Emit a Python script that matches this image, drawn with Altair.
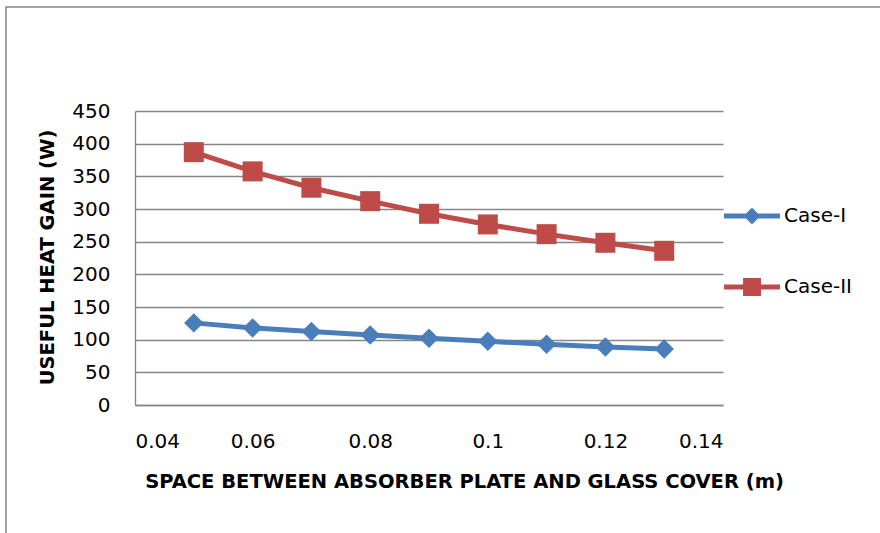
import altair as alt
import pandas as pd

# ---- data ----
spacing_m = [0.05, 0.06, 0.07, 0.08, 0.09, 0.10, 0.11, 0.12, 0.13]
case_1 = [125.7, 118.0, 112.4, 107.3, 102.0, 97.5, 92.9, 88.9, 85.8]
case_2 = [387.0, 357.6, 332.6, 312.0, 292.7, 276.4, 261.5, 248.3, 236.0]
series_names = ["Case-I", "Case-II"]
x_ticks = [0.04, 0.06, 0.08, 0.10, 0.12, 0.14]
y_ticks = [0, 50, 100, 150, 200, 250, 300, 350, 400, 450]

# ---- styling ----
line_colors = ["#4a7ebb", "#be4b48"]
marker_shapes = ["diamond", "square"]
marker_sizes = [380, 400]
legend_paths = [
    "M-1,-0.09L1,-0.09L1,0.09L-1,0.09Z M0,-0.3L0.3,0L0,0.3L-0.3,0Z",
    "M-1,-0.09L1,-0.09L1,0.09L-1,0.09Z M-0.32,-0.32L0.32,-0.32L0.32,0.32L-0.32,0.32Z",
]
FONT = "DejaVu Sans"
GRAY = "#868686"

rows = []
for name, vals in zip(series_names, [case_1, case_2]):
    for xv, yv in zip(spacing_m, vals):
        rows.append({"x": xv, "y": yv, "series": name})
df = pd.DataFrame(rows)

x_enc = alt.X(
    "x:Q",
    scale=alt.Scale(domain=[0.04, 0.14], nice=False, zero=False),
    axis=alt.Axis(
        values=x_ticks, format="~g", grid=False, ticks=False, tickSize=0,
        domain=True, domainColor=GRAY, domainWidth=1.3,
        labelFont=FONT, labelFontSize=20, labelColor="black", labelPadding=26,
        title="SPACE BETWEEN ABSORBER PLATE AND GLASS COVER (m)",
        titleFont=FONT, titleFontSize=19.5, titleFontWeight="bold", titleColor="black",
        titleX=329, titleY=76, titleBaseline="middle", titleAlign="center",
    ),
)
y_enc = alt.Y(
    "y:Q",
    scale=alt.Scale(domain=[0, 450], nice=False),
    axis=alt.Axis(
        values=y_ticks, grid=True, gridColor=GRAY, gridWidth=1.3,
        ticks=False, tickSize=0, domain=True, domainColor=GRAY, domainWidth=1.3,
        labelFont=FONT, labelFontSize=20, labelColor="black", labelPadding=25,
        title="USEFUL HEAT GAIN (W)",
        titleFont=FONT, titleFontSize=19.5, titleFontWeight="bold", titleColor="black",
        titleAngle=270, titleX=-88, titleY=146, titleBaseline="middle", titleAlign="center",
    ),
)

color_scale = alt.Scale(domain=series_names, range=line_colors)

border = alt.Chart(pd.DataFrame({"k": [0]})).mark_rect(
    filled=False, stroke=GRAY, strokeWidth=1.5
).encode(
    x=alt.value(-129), y=alt.value(-104), x2=alt.value(1200), y2=alt.value(1200)
)

lines = alt.Chart(df).mark_line(strokeWidth=5).encode(
    x=x_enc, y=y_enc,
    color=alt.Color("series:N", scale=color_scale, legend=None),
)

points = alt.Chart(df).mark_point(filled=True, opacity=1).encode(
    x=x_enc, y=y_enc,
    color=alt.Color("series:N", scale=color_scale, legend=None),
    shape=alt.Shape("series:N", scale=alt.Scale(domain=series_names, range=marker_shapes), legend=None),
    size=alt.Size("series:N", scale=alt.Scale(domain=series_names, range=marker_sizes), legend=None),
)

legend_def = alt.Legend(
    title=None, orient="none", legendX=589, legendY=77, padding=0,
    labelFont=FONT, labelFontSize=20, labelColor="black", labelOffset=4,
    symbolSize=3136, symbolStrokeWidth=0, rowPadding=33, symbolOpacity=1,
)
legend_layer = alt.Chart(df).mark_point(filled=True, opacity=1).encode(
    x=x_enc, y=y_enc,
    color=alt.Color("series:N", scale=color_scale, legend=legend_def),
    shape=alt.Shape("series:N", scale=alt.Scale(domain=series_names, range=legend_paths), legend=legend_def),
).transform_filter("false")

chart = alt.layer(border, lines, points, legend_layer).resolve_scale(
    color="independent", shape="independent", size="independent"
).properties(
    width=588, height=294,
    autosize=alt.AutoSizeParams(type="none"),
    padding={"left": 135, "top": 111, "right": 157, "bottom": 128},
    background="white",
).configure_view(stroke=None)

chart.save("out.html", embed_options={"renderer": "svg", "actions": False})
